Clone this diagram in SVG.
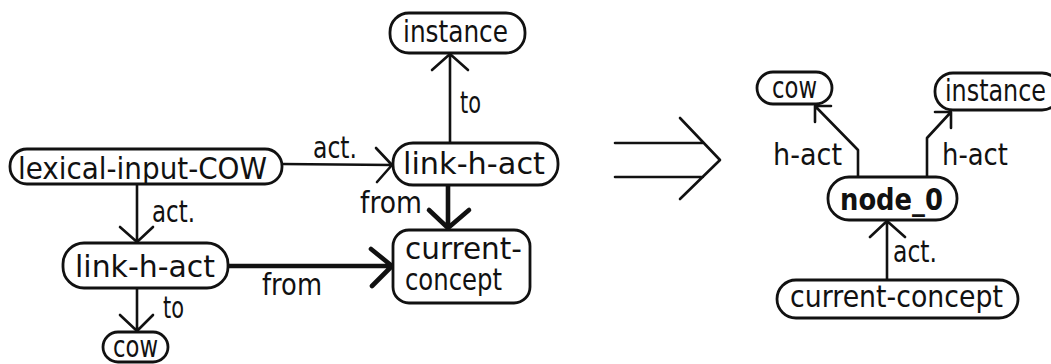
<svg xmlns="http://www.w3.org/2000/svg" width="1051" height="364" viewBox="0 0 1051 364">
<style>
.box{fill:#fff;stroke:#111;stroke-width:2.8}
.t{font-family:"DejaVu Sans","Liberation Sans",sans-serif;font-size:31px;fill:#111}
.b{font-weight:bold}
.ln{fill:none;stroke:#111;stroke-width:2.6;stroke-linecap:round;stroke-linejoin:round}
.th{fill:none;stroke:#111;stroke-width:4.6;stroke-linecap:round;stroke-linejoin:round}
</style>
<rect width="1051" height="364" fill="#fff"/>
<g id="connectors">
  <!-- left graph -->
  <path class="ln" d="M282 164 L392 165 M376 148 L392 165 L377 182"/>
  <text class="t" x="313" y="158" textLength="44" lengthAdjust="spacingAndGlyphs">act.</text>
  <path class="ln" d="M450 143 L450 54 M432 70 L450 54 L468 70"/>
  <text class="t" x="460" y="113" textLength="21" lengthAdjust="spacingAndGlyphs">to</text>
  <path class="th" d="M448 185 L448 228 M429 210 L448 228 L469 210"/>
  <text class="t" x="360" y="213" textLength="62" lengthAdjust="spacingAndGlyphs">from</text>
  <path class="ln" d="M137 185 L137 242 M120 227 L137 242 L153 227"/>
  <text class="t" x="152" y="222" textLength="43" lengthAdjust="spacingAndGlyphs">act.</text>
  <path class="th" d="M228 266 L392 266 M371 249 L392 266 L372 286"/>
  <text class="t" x="262" y="295" textLength="60" lengthAdjust="spacingAndGlyphs">from</text>
  <path class="ln" d="M137 288 L137 331 M120 315 L137 331 L153 315"/>
  <text class="t" x="163" y="318" textLength="21" lengthAdjust="spacingAndGlyphs">to</text>
  <!-- transformation arrow -->
  <path class="ln" d="M615 143 L703 143 M615 177 L703 177 M680 118 L720 160 L680 199"/>
  <!-- right graph -->
  <path class="ln" d="M858 177 L858 150 L815 106 M815 106 L831 106 M815 106 L815 122"/>
  <text class="t" x="773" y="165" textLength="69" lengthAdjust="spacingAndGlyphs">h-act</text>
  <path class="ln" d="M927 177 L927 138 L951 112 M951 112 L935 112 M951 112 L951 128"/>
  <text class="t" x="942" y="165" textLength="66" lengthAdjust="spacingAndGlyphs">h-act</text>
  <path class="ln" d="M887 280 L887 221 M870 237 L887 221 L905 237"/>
  <text class="t" x="893" y="262" textLength="44" lengthAdjust="spacingAndGlyphs">act.</text>
</g>
<g id="n-lexical">
  <rect class="box" x="10" y="149" width="272" height="35" rx="17"/>
  <text class="t" x="18" y="179" textLength="249" lengthAdjust="spacingAndGlyphs">lexical-input-COW</text>
</g>
<g id="n-instance-left">
  <rect class="box" x="390" y="13" width="135" height="40" rx="19"/>
  <text class="t" x="403" y="42" textLength="105" lengthAdjust="spacingAndGlyphs">instance</text>
</g>
<g id="n-link-top">
  <rect class="box" x="393" y="143" width="165" height="42" rx="20"/>
  <text class="t" x="403" y="174" textLength="142" lengthAdjust="spacingAndGlyphs">link-h-act</text>
</g>
<g id="n-current-left">
  <rect class="box" x="393" y="230" width="137" height="73" rx="16"/>
  <text class="t" x="405" y="259" textLength="117" lengthAdjust="spacingAndGlyphs">current-</text>
  <text class="t" x="405" y="290" textLength="97" lengthAdjust="spacingAndGlyphs">concept</text>
</g>
<g id="n-link-bottom">
  <rect class="box" x="63" y="243" width="165" height="45" rx="21"/>
  <text class="t" x="75" y="277" textLength="140" lengthAdjust="spacingAndGlyphs">link-h-act</text>
</g>
<g id="n-cow-left">
  <rect class="box" x="103" y="332" width="65" height="30" rx="15"/>
  <text class="t" x="113" y="357" textLength="45" lengthAdjust="spacingAndGlyphs">cow</text>
</g>
<g id="n-cow-right">
  <rect class="box" x="757" y="72" width="75" height="32" rx="16"/>
  <text class="t" x="772" y="98" textLength="45" lengthAdjust="spacingAndGlyphs">cow</text>
</g>
<g id="n-instance-right">
  <rect class="box" x="935" y="73" width="125" height="37" rx="18"/>
  <text class="t" x="945" y="101" textLength="101" lengthAdjust="spacingAndGlyphs">instance</text>
</g>
<g id="n-node0">
  <rect class="box" x="828" y="177" width="129" height="43" rx="21"/>
  <text class="t b" x="840" y="210" textLength="103" lengthAdjust="spacingAndGlyphs">node_0</text>
</g>
<g id="n-current-right">
  <rect class="box" x="777" y="280" width="241" height="38" rx="19"/>
  <text class="t" x="790" y="307" textLength="213" lengthAdjust="spacingAndGlyphs">current-concept</text>
</g>
</svg>
